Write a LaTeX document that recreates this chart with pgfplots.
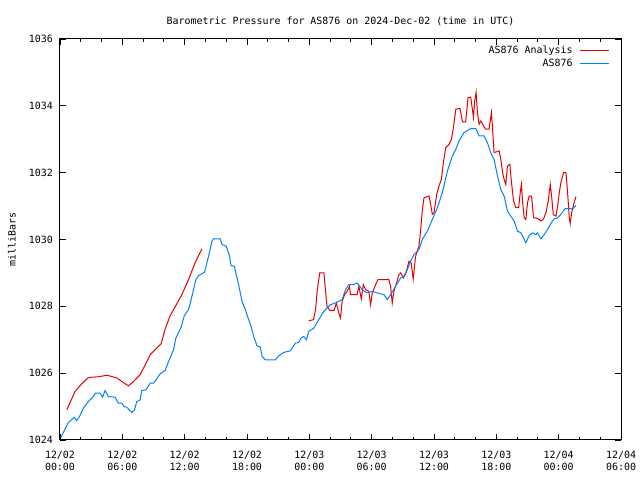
\documentclass[border=0pt]{standalone}
\usepackage{pgfplots}
\pgfplotsset{compat=1.18}
\usepackage{fontspec}
\setmainfont{DejaVu Sans Mono}
\definecolor{gred}{RGB}{230,0,0}
\definecolor{gblue}{RGB}{0,128,255}
\begin{document}
\fontsize{10}{12}\selectfont
\begin{tikzpicture}[x=1bp,y=1bp]
\path[use as bounding box] (-60,-40) rectangle (580,440);
\begin{axis}[
  at={(0,0)}, anchor=south west,
  scale only axis, width=561bp, height=401bp,
  xmin=0, xmax=54, ymin=1024, ymax=1036,
  xtick={0,6,...,54},
  minor xtick={2,4,8,10,14,16,20,22,26,28,32,34,38,40,44,46,50,52},
  xticklabels={{12/02\\00:00},{12/02\\06:00},{12/02\\12:00},{12/02\\18:00},{12/03\\00:00},{12/03\\06:00},{12/03\\12:00},{12/03\\18:00},{12/04\\00:00},{12/04\\06:00}},
  xticklabel style={align=center, font=\fontsize{10}{12}\selectfont, yshift=-8bp},
  ytick={1024,1026,...,1036},
  yticklabel style={font=\fontsize{10}{12}\selectfont, xshift=-3.5bp},
  /pgf/number format/assume math mode=true,
  /pgf/number format/set thousands separator={},
  tick align=inside,
  major tick length=6bp, minor tick length=3bp,
  tick style={black, line width=0.8bp},
  axis line style={line width=1bp},
  title={Barometric Pressure for AS876 on 2024-Dec-02 (time in UTC)},
  title style={at={(axis description cs:0.5,1)}, anchor=base, yshift=9bp, font=\fontsize{10}{12}\selectfont},
  ylabel={milliBars},
  ylabel style={at={(axis description cs:-0.0856,0.5)}, anchor=center, font=\fontsize{10}{12}\selectfont},
  legend plot pos=right,
  legend cell align=right,
  legend style={at={(axis description cs:1,1)}, anchor=north east, xshift=-11bp, yshift=-4.5bp, draw=none, fill=none, font=\fontsize{10}{12}\selectfont, row sep=0.5bp, inner sep=0pt, column sep=5bp},
  legend image code/.code={\draw[#1, line width=1.2bp] (0bp,0bp) -- (29bp,0bp);},
]
\addplot[gred, line width=1bp] coordinates {
(0.65,1024.9) (1.45,1025.45) (2.09,1025.68) (2.64,1025.85) (3.05,1025.88) (3.7,1025.89) (4.5,1025.94) (4.98,1025.9) (5.46,1025.86) (5.95,1025.75) (6.59,1025.62) (7.07,1025.75) (7.71,1025.95) (8.2,1026.25) (8.68,1026.55) (9.16,1026.7) (9.74,1026.88) (10.1,1027.3) (10.6,1027.72) (11.15,1028.02) (11.73,1028.35) (12.37,1028.8) (13.0,1029.3) (13.66,1029.72)
};
\addlegendentry{AS876 Analysis}
\addplot[gred, line width=1bp, forget plot] coordinates {
(23.94,1027.57) (24.4,1027.6) (24.6,1027.9) (24.75,1028.45) (25.0,1029.0) (25.4,1029.0) (25.55,1028.5) (25.7,1028.0) (25.97,1027.88) (26.4,1027.88) (26.6,1028.1) (26.84,1027.8) (27.0,1027.65) (27.16,1028.15) (27.39,1028.35) (27.64,1028.45) (27.87,1028.6) (27.96,1028.35) (28.6,1028.35) (28.77,1028.6) (29.0,1028.22) (29.2,1028.65) (29.41,1028.5) (29.73,1028.45) (29.9,1028.05) (30.06,1028.4) (30.38,1028.65) (30.6,1028.8) (31.66,1028.8) (31.82,1028.6) (31.98,1028.1) (32.14,1028.45) (32.4,1028.7) (32.62,1028.95) (32.79,1029.0) (33.05,1028.85) (33.3,1029.0) (33.59,1029.35) (33.8,1029.3) (34.0,1028.82) (34.23,1029.5) (34.55,1029.8) (34.71,1030.25) (34.88,1030.9) (35.04,1031.25) (35.52,1031.3) (35.68,1031.05) (35.84,1030.75) (36.0,1030.8) (36.26,1031.35) (36.48,1031.6) (36.71,1031.8) (36.9,1032.3) (37.13,1032.75) (37.45,1032.85) (37.68,1033.0) (37.87,1033.35) (38.1,1033.9) (38.5,1033.92) (38.74,1033.52) (39.05,1033.52) (39.28,1034.25) (39.54,1034.25) (39.8,1033.65) (39.92,1034.15) (40.05,1034.4) (40.18,1033.8) (40.34,1033.45) (40.5,1033.55) (40.76,1033.4) (40.98,1033.3) (41.3,1033.3) (41.53,1033.8) (41.65,1033.25) (41.78,1032.6) (42.27,1032.65) (42.43,1032.4) (42.6,1032.0) (42.75,1031.8) (42.91,1031.65) (43.07,1032.2) (43.3,1032.25) (43.46,1031.7) (43.66,1031.15) (43.88,1030.95) (44.14,1030.95) (44.3,1031.4) (44.42,1031.65) (44.52,1031.15) (44.68,1030.65) (44.84,1030.6) (45.0,1031.1) (45.16,1031.3) (45.39,1031.3) (45.48,1031.0) (45.58,1030.65) (45.8,1030.65) (46.13,1030.6) (46.29,1030.55) (46.55,1030.62) (46.77,1030.8) (47.0,1031.15) (47.19,1031.65) (47.32,1031.3) (47.48,1030.75) (47.74,1030.7) (47.9,1031.0) (48.06,1031.4) (48.21,1031.7) (48.47,1032.0) (48.7,1032.0) (48.86,1031.4) (49.02,1030.65) (49.11,1030.48) (49.25,1030.8) (49.44,1031.05) (49.66,1031.28)
};
\addplot[gblue, line width=1bp] coordinates {
(0.1,1024.08) (0.8,1024.52) (1.38,1024.68) (1.6,1024.58) (1.83,1024.67) (2.25,1024.95) (2.73,1025.15) (3.21,1025.3) (3.38,1025.4) (3.86,1025.4) (4.1,1025.28) (4.34,1025.48) (4.66,1025.3) (5.3,1025.28) (5.62,1025.1) (5.95,1025.1) (6.17,1025.0) (6.43,1024.98) (6.91,1024.82) (7.17,1024.9) (7.39,1025.15) (7.71,1025.2) (7.87,1025.48) (8.26,1025.5) (8.68,1025.7) (9.0,1025.7) (9.64,1025.98) (10.12,1026.08) (10.45,1026.35) (10.93,1026.7) (11.15,1027.05) (11.67,1027.38) (11.96,1027.72) (12.37,1027.9) (12.7,1028.3) (13.08,1028.8) (13.34,1028.92) (13.92,1029.02) (14.3,1029.5) (14.63,1029.95) (14.78,1030.02) (15.43,1030.02) (15.59,1029.85) (16.0,1029.8) (16.32,1029.5) (16.46,1029.22) (16.78,1029.2) (17.04,1028.85) (17.29,1028.5) (17.52,1028.15) (17.84,1027.9) (18.16,1027.6) (18.39,1027.4) (18.64,1027.1) (18.96,1026.82) (19.29,1026.78) (19.45,1026.5) (19.77,1026.4) (20.73,1026.4) (21.05,1026.52) (21.53,1026.62) (22.18,1026.67) (22.66,1026.9) (22.98,1026.92) (23.2,1027.05) (23.46,1027.1) (23.72,1027.0) (23.94,1027.25) (24.43,1027.35) (24.9,1027.6) (25.39,1027.85) (26.04,1028.05) (26.52,1028.1) (27.16,1028.2) (27.48,1028.5) (27.8,1028.65) (28.28,1028.65) (28.6,1028.7) (29.09,1028.5) (29.57,1028.4) (30.06,1028.45) (30.54,1028.4) (31.18,1028.35) (31.5,1028.2) (31.82,1028.35) (32.3,1028.6) (32.79,1028.85) (33.1,1028.9) (33.43,1029.1) (33.75,1029.35) (34.07,1029.55) (34.55,1029.7) (34.88,1030.0) (35.36,1030.25) (35.84,1030.6) (36.32,1030.95) (36.8,1031.4) (37.29,1032.05) (37.77,1032.5) (38.1,1032.7) (38.41,1032.95) (38.89,1033.2) (39.54,1033.32) (40.02,1033.32) (40.34,1033.1) (40.82,1033.1) (41.14,1032.9) (41.46,1032.6) (41.78,1032.4) (42.11,1031.9) (42.43,1031.5) (42.75,1031.3) (43.07,1030.85) (43.39,1030.7) (43.71,1030.55) (44.04,1030.25) (44.36,1030.2) (44.61,1030.05) (44.84,1029.9) (45.16,1030.12) (45.48,1030.2) (45.8,1030.15) (45.96,1030.2) (46.29,1030.02) (46.61,1030.15) (46.93,1030.3) (47.25,1030.48) (47.57,1030.62) (47.9,1030.65) (48.21,1030.75) (48.6,1030.92) (49.02,1030.92) (49.34,1030.92) (49.66,1031.02)
};
\addlegendentry{AS876}
\end{axis}
\end{tikzpicture}
\end{document}
